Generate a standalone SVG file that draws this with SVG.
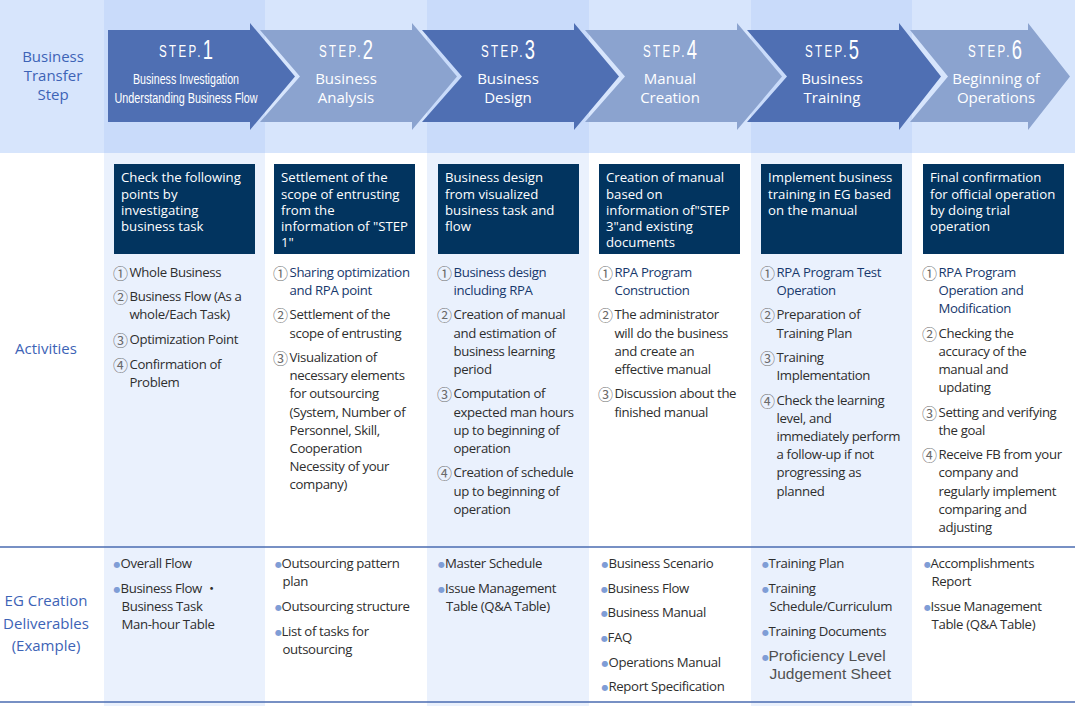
<svg xmlns="http://www.w3.org/2000/svg" width="1078" height="706" viewBox="0 0 1078 706">
<style>
.hb{fill:#d7e5fc}
.hh{fill:#c9dbfa}
.cl{fill:#eaf1fd}
.ad{fill:#4f6fb3}
.al{fill:#8ba3cf}
.stp{font-family:"Liberation Sans Narrow","Liberation Sans",sans-serif;font-size:17px;letter-spacing:3.5px;fill:#fff;text-anchor:middle}
.dg{font-size:27px;letter-spacing:0}
.at{font-family:"Open Sans","Noto Sans",sans-serif;font-size:15px;fill:#fff;text-anchor:middle}
.an{font-family:"Liberation Sans Narrow","Liberation Sans",sans-serif;font-size:14.5px;fill:#fff;text-anchor:middle}
.lb{font-family:"Open Sans","Noto Sans",sans-serif;font-size:15px;fill:#3d63b6;text-anchor:middle}
.bx{fill:#02345f}
.bt{font-family:"Open Sans","Noto Sans",sans-serif;font-size:13.2px;fill:#fff}
.li{font-family:"Open Sans","Noto Sans","Noto Sans CJK JP",sans-serif;font-size:13.2px;fill:#2e2e2e;letter-spacing:-0.35px}
.nv{fill:#17386c}
.cn{font-family:"Noto Sans CJK JP",sans-serif;font-size:15px;fill:#6a6a6a;letter-spacing:0;baseline-shift:-1.5px}
.bu{font-family:"DejaVu Sans",sans-serif;fill:#7f9dd6;font-size:8px;letter-spacing:0;baseline-shift:1.5px}
.pf{font-family:"Liberation Sans",Arial,sans-serif;font-size:15.5px;fill:#505050;letter-spacing:0}
.rule{stroke:#4a6bb0;stroke-width:1.5;fill:none}
</style>

<g id="background">
<rect x="0" y="0" width="1075" height="153" class="hb"/>
<rect x="104" y="0" width="161" height="153" class="hh"/>
<rect x="427" y="0" width="162" height="153" class="hh"/>
<rect x="751" y="0" width="161" height="153" class="hh"/>
<rect x="104" y="153" width="161" height="553" class="cl"/>
<rect x="427" y="153" width="162" height="553" class="cl"/>
<rect x="751" y="153" width="161" height="553" class="cl"/>
</g>

<g id="row-labels">
<text class="lb" x="53" y="62.3">Business</text>
<text class="lb" x="53" y="81">Transfer</text>
<text class="lb" x="53" y="99.6">Step</text>
<text class="lb" x="46" y="354">Activities</text>
<text class="lb" x="46" y="606">EG Creation</text>
<text class="lb" x="46" y="628.5">Deliverables</text>
<text class="lb" x="46" y="650.5">(Example)</text>
</g>

<g id="connectors">
<line class="rule" x1="0" y1="547" x2="1075" y2="547"/>
<line class="rule" x1="0" y1="702" x2="1075" y2="702"/>
</g>

<g id="step1">
<polygon class="ad" points="108,30 250,30 250,23 295,76.5 250,130 250,122 108,122"/>
<text class="stp" transform="translate(186,57) scale(0.68,1)">STEP.<tspan class="dg" dy="2">1</tspan></text>
<text class="an" x="186" y="83.5" textLength="106" lengthAdjust="spacingAndGlyphs">Business Investigation</text>
<text class="an" x="186" y="103.3" textLength="143" lengthAdjust="spacingAndGlyphs">Understanding Business Flow</text>
</g>
<g id="step2">
<polygon class="al" points="260,30 412,30 412,23 457,76.5 412,130 412,122 260,122 300,76.5"/>
<text class="stp" transform="translate(346,57) scale(0.68,1)">STEP.<tspan class="dg" dy="2">2</tspan></text>
<text class="at" x="346" y="83.5">Business</text>
<text class="at" x="346" y="103">Analysis</text>
</g>
<g id="step3">
<polygon class="ad" points="422,30 574,30 574,23 619,76.5 574,130 574,122 422,122 462,76.5"/>
<text class="stp" transform="translate(508,57) scale(0.68,1)">STEP.<tspan class="dg" dy="2">3</tspan></text>
<text class="at" x="508" y="83.5">Business</text>
<text class="at" x="508" y="103">Design</text>
</g>
<g id="step4">
<polygon class="al" points="585,30 737,30 737,23 782,76.5 737,130 737,122 585,122 625,76.5"/>
<text class="stp" transform="translate(670,57) scale(0.68,1)">STEP.<tspan class="dg" dy="2">4</tspan></text>
<text class="at" x="670" y="83.5">Manual</text>
<text class="at" x="670" y="103">Creation</text>
</g>
<g id="step5">
<polygon class="ad" points="747,30 899,30 899,23 941,76.5 899,130 899,122 747,122 787,76.5"/>
<text class="stp" transform="translate(832,57) scale(0.68,1)">STEP.<tspan class="dg" dy="2">5</tspan></text>
<text class="at" x="832" y="83.5">Business</text>
<text class="at" x="832" y="103">Training</text>
</g>
<g id="step6">
<polygon class="al" points="910,30 1028,30 1028,23 1070,76.5 1028,130 1028,122 910,122 948,76.5"/>
<text class="stp" transform="translate(995,57) scale(0.68,1)">STEP.<tspan class="dg" dy="2">6</tspan></text>
<text class="at" x="996" y="83.5">Beginning of</text>
<text class="at" x="996" y="103">Operations</text>
</g>

<g id="activity1">
<rect class="bx" x="114" y="164" width="141" height="90"/>
<text class="bt" x="121" y="182.3">Check the following</text>
<text class="bt" x="121" y="198.5">points by</text>
<text class="bt" x="121" y="214.7">investigating</text>
<text class="bt" x="121" y="230.9">business task</text>
<text class="li" y="276.7"><tspan class="cn" x="113">①</tspan><tspan x="129.5">Whole Business</tspan></text>
<text class="li" y="301.25"><tspan class="cn" x="113">②</tspan><tspan x="129.5">Business Flow (As a</tspan></text>
<text class="li" x="129.5" y="319.4">whole/Each Task)</text>
<text class="li" y="343.95"><tspan class="cn" x="113">③</tspan><tspan x="129.5">Optimization Point</tspan></text>
<text class="li" y="368.5"><tspan class="cn" x="113">④</tspan><tspan x="129.5">Confirmation of</tspan></text>
<text class="li" x="129.5" y="386.65">Problem</text>
</g>

<g id="activity2">
<rect class="bx" x="274" y="164" width="141" height="90"/>
<text class="bt" x="281" y="182.3">Settlement of the</text>
<text class="bt" x="281" y="198.5">scope of entrusting</text>
<text class="bt" x="281" y="214.7">from the</text>
<text class="bt" x="281" y="230.9">information of "STEP</text>
<text class="bt" x="281" y="247.1">1"</text>
<text class="li nv" y="276.7"><tspan class="cn" x="273">①</tspan><tspan x="289.5">Sharing optimization</tspan></text>
<text class="li nv" x="289.5" y="294.85">and RPA point</text>
<text class="li" y="319.4"><tspan class="cn" x="273">②</tspan><tspan x="289.5">Settlement of the</tspan></text>
<text class="li" x="289.5" y="337.55">scope of entrusting</text>
<text class="li" y="362.1"><tspan class="cn" x="273">③</tspan><tspan x="289.5">Visualization of</tspan></text>
<text class="li" x="289.5" y="380.25">necessary elements</text>
<text class="li" x="289.5" y="398.4">for outsourcing</text>
<text class="li" x="289.5" y="416.55">(System, Number of</text>
<text class="li" x="289.5" y="434.7">Personnel, Skill,</text>
<text class="li" x="289.5" y="452.85">Cooperation</text>
<text class="li" x="289.5" y="471">Necessity of your</text>
<text class="li" x="289.5" y="489.15">company)</text>
</g>

<g id="activity3">
<rect class="bx" x="438" y="164" width="141" height="90"/>
<text class="bt" x="445" y="182.3">Business design</text>
<text class="bt" x="445" y="198.5">from visualized</text>
<text class="bt" x="445" y="214.7">business task and</text>
<text class="bt" x="445" y="230.9">flow</text>
<text class="li nv" y="276.7"><tspan class="cn" x="437">①</tspan><tspan x="453.5">Business design</tspan></text>
<text class="li nv" x="453.5" y="294.85">including RPA</text>
<text class="li" y="319.4"><tspan class="cn" x="437">②</tspan><tspan x="453.5">Creation of manual</tspan></text>
<text class="li" x="453.5" y="337.55">and estimation of</text>
<text class="li" x="453.5" y="355.7">business learning</text>
<text class="li" x="453.5" y="373.85">period</text>
<text class="li" y="398.4"><tspan class="cn" x="437">③</tspan><tspan x="453.5">Computation of</tspan></text>
<text class="li" x="453.5" y="416.55">expected man hours</text>
<text class="li" x="453.5" y="434.7">up to beginning of</text>
<text class="li" x="453.5" y="452.85">operation</text>
<text class="li" y="477.4"><tspan class="cn" x="437">④</tspan><tspan x="453.5">Creation of schedule</tspan></text>
<text class="li" x="453.5" y="495.55">up to beginning of</text>
<text class="li" x="453.5" y="513.7">operation</text>
</g>

<g id="activity4">
<rect class="bx" x="599" y="164" width="141" height="90"/>
<text class="bt" x="606" y="182.3">Creation of manual</text>
<text class="bt" x="606" y="198.5">based on</text>
<text class="bt" x="606" y="214.7">information of"STEP</text>
<text class="bt" x="606" y="230.9">3"and existing</text>
<text class="bt" x="606" y="247.1">documents</text>
<text class="li nv" y="276.7"><tspan class="cn" x="598">①</tspan><tspan x="614.5">RPA Program</tspan></text>
<text class="li nv" x="614.5" y="294.85">Construction</text>
<text class="li" y="319.4"><tspan class="cn" x="598">②</tspan><tspan x="614.5">The administrator</tspan></text>
<text class="li" x="614.5" y="337.55">will do the business</text>
<text class="li" x="614.5" y="355.7">and create an</text>
<text class="li" x="614.5" y="373.85">effective manual</text>
<text class="li" y="398.4"><tspan class="cn" x="598">③</tspan><tspan x="614.5">Discussion about the</tspan></text>
<text class="li" x="614.5" y="416.55">finished manual</text>
</g>

<g id="activity5">
<rect class="bx" x="761" y="164" width="141" height="90"/>
<text class="bt" x="768" y="182.3">Implement business</text>
<text class="bt" x="768" y="198.5">training in EG based</text>
<text class="bt" x="768" y="214.7">on the manual</text>
<text class="li nv" y="276.7"><tspan class="cn" x="760">①</tspan><tspan x="776.5">RPA Program Test</tspan></text>
<text class="li nv" x="776.5" y="294.85">Operation</text>
<text class="li" y="319.4"><tspan class="cn" x="760">②</tspan><tspan x="776.5">Preparation of</tspan></text>
<text class="li" x="776.5" y="337.55">Training Plan</text>
<text class="li" y="362.1"><tspan class="cn" x="760">③</tspan><tspan x="776.5">Training</tspan></text>
<text class="li" x="776.5" y="380.25">Implementation</text>
<text class="li" y="404.8"><tspan class="cn" x="760">④</tspan><tspan x="776.5">Check the learning</tspan></text>
<text class="li" x="776.5" y="422.95">level, and</text>
<text class="li" x="776.5" y="441.1">immediately perform</text>
<text class="li" x="776.5" y="459.25">a follow-up if not</text>
<text class="li" x="776.5" y="477.4">progressing as</text>
<text class="li" x="776.5" y="495.55">planned</text>
</g>

<g id="activity6">
<rect class="bx" x="923" y="164" width="141" height="90"/>
<text class="bt" x="930" y="182.3">Final confirmation</text>
<text class="bt" x="930" y="198.5">for official operation</text>
<text class="bt" x="930" y="214.7">by doing trial</text>
<text class="bt" x="930" y="230.9">operation</text>
<text class="li nv" y="276.7"><tspan class="cn" x="922">①</tspan><tspan x="938.5">RPA Program</tspan></text>
<text class="li nv" x="938.5" y="294.85">Operation and</text>
<text class="li nv" x="938.5" y="313">Modification</text>
<text class="li" y="337.55"><tspan class="cn" x="922">②</tspan><tspan x="938.5">Checking the</tspan></text>
<text class="li" x="938.5" y="355.7">accuracy of the</text>
<text class="li" x="938.5" y="373.85">manual and</text>
<text class="li" x="938.5" y="392">updating</text>
<text class="li" y="416.55"><tspan class="cn" x="922">③</tspan><tspan x="938.5">Setting and verifying</tspan></text>
<text class="li" x="938.5" y="434.7">the goal</text>
<text class="li" y="459.25"><tspan class="cn" x="922">④</tspan><tspan x="938.5">Receive FB from your</tspan></text>
<text class="li" x="938.5" y="477.4">company and</text>
<text class="li" x="938.5" y="495.55">regularly implement</text>
<text class="li" x="938.5" y="513.7">comparing and</text>
<text class="li" x="938.5" y="531.85">adjusting</text>
</g>

<g id="deliverables1">
<text class="li" y="568.3"><tspan class="bu" x="113.5">●</tspan><tspan x="120.5">Overall Flow</tspan></text>
<text class="li" y="592.85"><tspan class="bu" x="113.5">●</tspan><tspan x="120.5">Business Flow ・</tspan></text>
<text class="li" x="121.5" y="611">Business Task</text>
<text class="li" x="121.5" y="629.15">Man-hour Table</text>
</g>
<g id="deliverables2">
<text class="li" y="568.3"><tspan class="bu" x="275">●</tspan><tspan x="281.5">Outsourcing pattern</tspan></text>
<text class="li" x="282.5" y="586.45">plan</text>
<text class="li" y="610.95"><tspan class="bu" x="275">●</tspan><tspan x="281.5">Outsourcing structure</tspan></text>
<text class="li" y="635.5"><tspan class="bu" x="275">●</tspan><tspan x="281.5">List of tasks for</tspan></text>
<text class="li" x="282.5" y="653.65">outsourcing</text>
</g>
<g id="deliverables3">
<text class="li" y="568.3"><tspan class="bu" x="438">●</tspan><tspan x="445">Master Schedule</tspan></text>
<text class="li" y="592.85"><tspan class="bu" x="438">●</tspan><tspan x="445">Issue Management</tspan></text>
<text class="li" x="446" y="611">Table (Q&amp;A Table)</text>
</g>
<g id="deliverables4">
<text class="li" y="568.3"><tspan class="bu" x="601.5">●</tspan><tspan x="608.5">Business Scenario</tspan></text>
<text class="li" y="592.85"><tspan class="bu" x="601">●</tspan><tspan x="607.5">Business Flow</tspan></text>
<text class="li" y="617.4"><tspan class="bu" x="601">●</tspan><tspan x="607.5">Business Manual</tspan></text>
<text class="li" y="641.95"><tspan class="bu" x="601">●</tspan><tspan x="607.5">FAQ</tspan></text>
<text class="li" y="666.5"><tspan class="bu" x="601.5">●</tspan><tspan x="608.5">Operations Manual</tspan></text>
<text class="li" y="691.05"><tspan class="bu" x="601.5">●</tspan><tspan x="608.5">Report Specification</tspan></text>
</g>
<g id="deliverables5">
<text class="li" y="568.3"><tspan class="bu" x="762">●</tspan><tspan x="768.5">Training Plan</tspan></text>
<text class="li" y="592.85"><tspan class="bu" x="762">●</tspan><tspan x="768.5">Training</tspan></text>
<text class="li" x="769.5" y="611">Schedule/Curriculum</text>
<text class="li" y="635.55"><tspan class="bu" x="762">●</tspan><tspan x="768.5">Training Documents</tspan></text>
<text class="li" y="660.5"><tspan class="bu" x="762">●</tspan><tspan class="pf" x="768.5">Proficiency Level</tspan></text>
<text class="li pf" x="769.5" y="678.5">Judgement Sheet</text>
</g>
<g id="deliverables6">
<text class="li" y="568.3"><tspan class="bu" x="924">●</tspan><tspan x="930.5">Accomplishments</tspan></text>
<text class="li" x="931.5" y="586.45">Report</text>
<text class="li" y="610.95"><tspan class="bu" x="924">●</tspan><tspan x="930.5">Issue Management</tspan></text>
<text class="li" x="931.5" y="629.1">Table (Q&amp;A Table)</text>
</g>
</svg>
